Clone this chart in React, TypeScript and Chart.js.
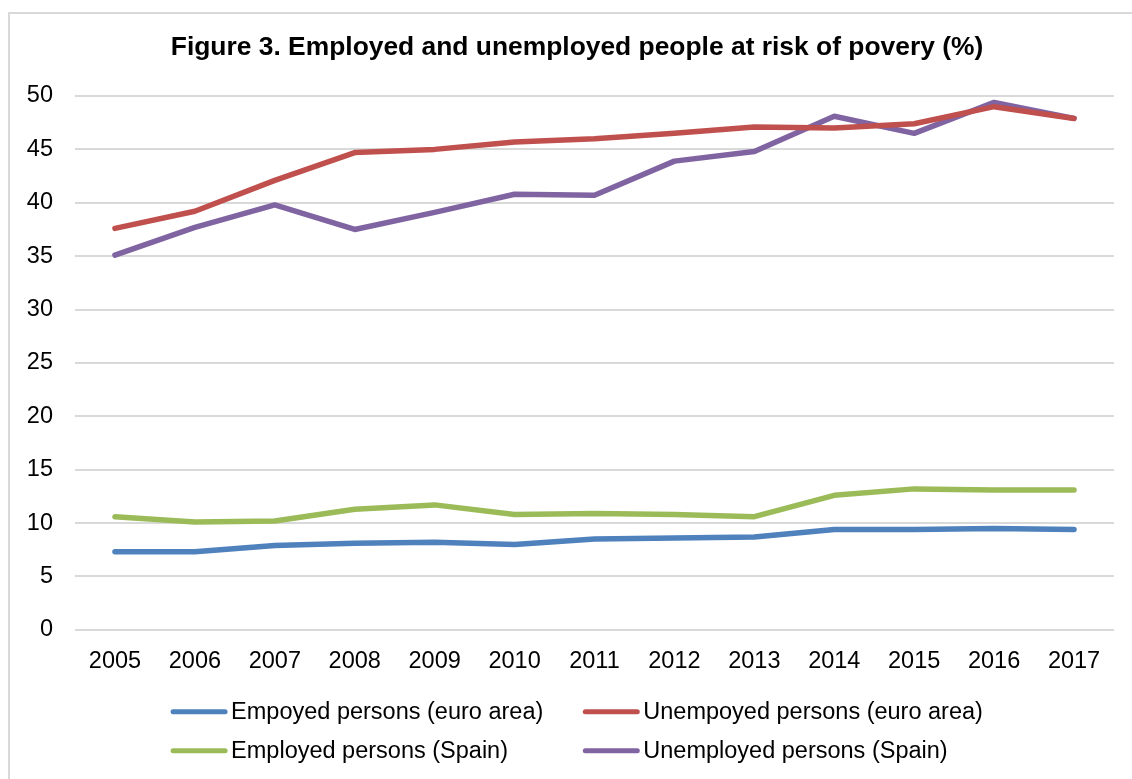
import React, { useEffect, useRef } from "react";
import { Chart, registerables } from "chart.js";

Chart.register(...registerables);

const years = ["2005", "2006", "2007", "2008", "2009", "2010", "2011", "2012", "2013", "2014", "2015", "2016", "2017"];
const employedEuro = [7.3, 7.3, 7.9, 8.1, 8.2, 8.0, 8.5, 8.6, 8.7, 9.4, 9.4, 9.5, 9.4];
const unemployedEuro = [37.6, 39.2, 42.1, 44.7, 45.0, 45.7, 46.0, 46.5, 47.1, 47.0, 47.4, 49.0, 47.9];
const employedSpain = [10.6, 10.1, 10.2, 11.3, 11.7, 10.8, 10.9, 10.8, 10.6, 12.6, 13.2, 13.1, 13.1];
const unemployedSpain = [35.1, 37.7, 39.8, 37.5, 39.1, 40.8, 40.7, 43.9, 44.8, 48.1, 46.5, 49.4, 47.9];
const seriesLabels = [
  "Empoyed persons (euro area)",
  "Unempoyed persons (euro area)",
  "Employed persons (Spain)",
  "Unemployed persons (Spain)",
];
const seriesColors = ["#4F81BD", "#C0504D", "#9BBB59", "#8064A2"];
const titleText = "Figure 3. Employed and unemployed people at risk of povery (%)";

const FONT = '"Liberation Sans", Arial, sans-serif';
const TEXT_SIZE = 23.5;
const CANVAS_W = 1122;
const CANVAS_H = 753;

const titleAndLegend = {
  id: "titleAndLegend",
  afterDraw(chart: any) {
    const ctx = chart.ctx;
    const area = chart.chartArea;
    const sets = chart.data.datasets;
    ctx.save();
    // title
    ctx.font = `bold 26.4px ${FONT}`;
    ctx.fillStyle = "#000";
    ctx.textAlign = "center";
    ctx.textBaseline = "middle";
    ctx.fillText(titleText, 567, area.top - 48);
    // legend
    ctx.font = `${TEXT_SIZE}px ${FONT}`;
    ctx.textAlign = "left";
    const lineW = 56;
    const textGap = 4;
    const colGap = 40;
    const cols = 2;
    const colWidths: number[] = [];
    for (let c = 0; c < cols; c++) {
      let m = 0;
      for (let i = c; i < sets.length; i += cols) {
        m = Math.max(m, ctx.measureText(sets[i].label).width);
      }
      colWidths.push(lineW + textGap + m);
    }
    const total = colWidths[0] + colGap + colWidths[1];
    const centerX = 567;
    const startX = centerX - total / 2;
    const rowYs = [area.bottom + 82, area.bottom + 121];
    sets.forEach((ds: any, i: number) => {
      const c = i % cols;
      const r = Math.floor(i / cols);
      const x = startX + (c === 0 ? 0 : colWidths[0] + colGap);
      const y = rowYs[r];
      ctx.strokeStyle = ds.borderColor;
      ctx.lineWidth = 5;
      ctx.lineCap = "round";
      ctx.beginPath();
      ctx.moveTo(x + 2, y);
      ctx.lineTo(x + lineW - 2, y);
      ctx.stroke();
      ctx.fillStyle = "#000";
      ctx.fillText(ds.label, x + lineW + textGap, y + 1);
    });
    ctx.restore();
  },
};

export default function App() {
  const ref = useRef<HTMLCanvasElement | null>(null);
  useEffect(() => {
    document.body.style.overflow = "hidden";
    if (!ref.current) return;
    const values = [employedEuro, unemployedEuro, employedSpain, unemployedSpain];
    const chart = new Chart(ref.current, {
      type: "line",
      data: {
        labels: years,
        datasets: values.map((v, i) => ({
          label: seriesLabels[i],
          data: v,
          borderColor: seriesColors[i],
          backgroundColor: seriesColors[i],
          borderWidth: 5.5,
          pointRadius: 0,
          tension: 0,
          borderCapStyle: "round" as const,
          borderJoinStyle: "round" as const,
        })),
      },
      options: {
        responsive: false,
        animation: false,
        layout: { padding: { left: 17, right: 18, top: 82, bottom: 73 } },
        plugins: {
          legend: { display: false },
          tooltip: { enabled: false },
          title: { display: false },
        },
        scales: {
          x: {
            offset: true,
            grid: { display: false, drawTicks: false },
            border: { display: false },
            ticks: { color: "#000", font: { family: FONT, size: TEXT_SIZE }, padding: 18, maxRotation: 0, autoSkip: false },
          },
          y: {
            min: 0,
            max: 50,
            grid: { color: "#d9d9d9", lineWidth: 2, drawTicks: false },
            border: { display: false },
            ticks: { stepSize: 5, color: "#000", font: { family: FONT, size: TEXT_SIZE }, padding: 22 },
            afterFit: (scale: any) => {
              scale.width = 48;
            },
          },
        },
      },
      plugins: [titleAndLegend],
    });
    return () => chart.destroy();
  }, []);
  return (
    <div
      style={{
        position: "absolute",
        left: 8,
        top: 12,
        width: 1200,
        height: 800,
        borderLeft: "2px solid #d9d9d9",
        borderTop: "2px solid #d9d9d9",
        background: "#fff",
      }}
    >
      <canvas
        ref={ref}
        width={CANVAS_W}
        height={CANVAS_H}
        style={{ display: "block", width: CANVAS_W, height: CANVAS_H }}
      />
    </div>
  );
}
